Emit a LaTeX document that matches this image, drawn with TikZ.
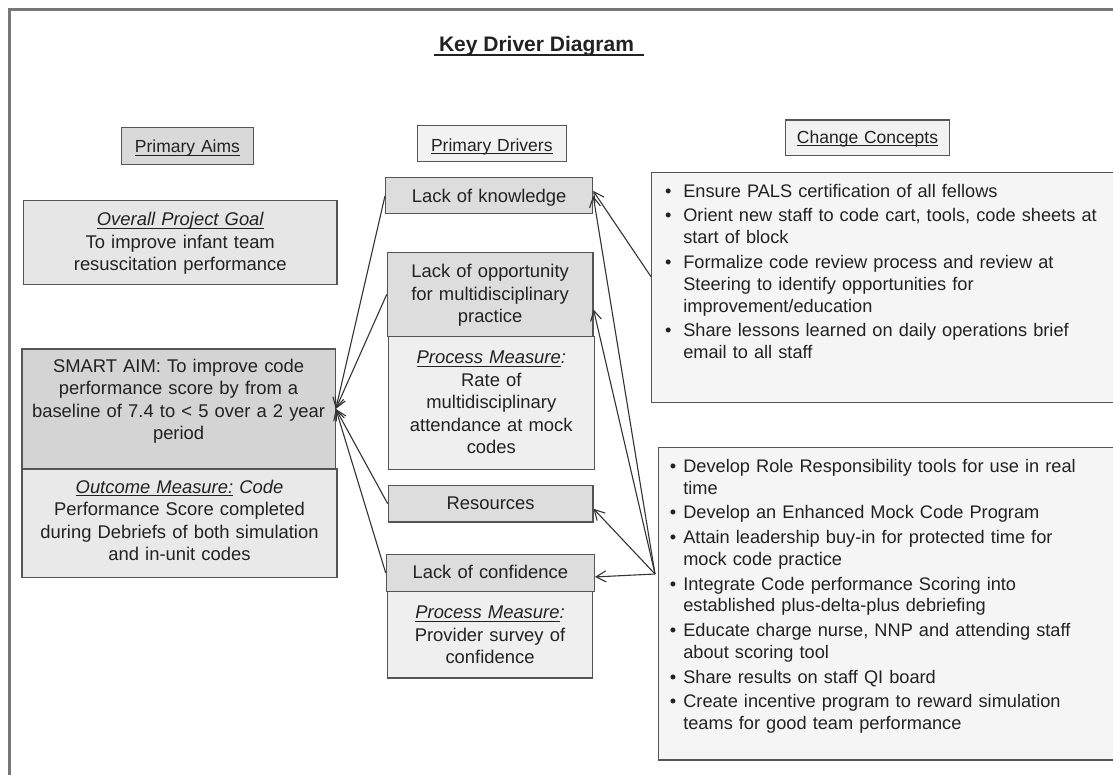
\documentclass[tikz,border=0pt]{standalone}
\usepackage{fontspec}
\setmainfont{Liberation Sans}
\usetikzlibrary{arrows.meta,calc}

\definecolor{framegray}{HTML}{777777}
\definecolor{boxgray}{HTML}{555555}
\definecolor{inkgray}{HTML}{222222}
\definecolor{arrowgray}{HTML}{333333}
\definecolor{aimfill}{HTML}{D9D9D9}
\definecolor{headfill}{HTML}{F2F2F2}
\definecolor{goalfill}{HTML}{E6E6E6}
\definecolor{smartfill}{HTML}{D4D4D4}
\definecolor{outfill}{HTML}{E9E9E9}
\definecolor{drvfill}{HTML}{DDDDDD}
\definecolor{pmfill}{HTML}{EFEFEF}
\definecolor{chgfill}{HTML}{F5F5F5}

% underline sitting just under the baseline
\newcommand{\kul}[2][1.1pt]{\setbox0=\hbox{#2}\rlap{\rule[\dimexpr-2pt-#1\relax]{\wd0}{#1}}\box0\relax}
% bullet item with hanging indent
\newlength\kbul
\newlength\ktxt
\newcommand{\kitem}[1]{\hangindent=\ktxt\hangafter=1\noindent\hspace*{\kbul}\makebox[\dimexpr\ktxt-\kbul\relax][l]{\textbullet}#1\par}

\begin{document}
\begin{tikzpicture}[x=1pt,y=-1pt,
  kbox/.style={draw=boxgray,line width=1.2pt,inner sep=0pt,anchor=north west,align=center,text=inkgray,font=\fontsize{18.4}{22.5}\selectfont},
  khead/.style={kbox,font=\fontsize{17.5}{21}\selectfont},
  klist/.style={kbox,align=left,font=\fontsize{18.2}{21.9}\selectfont},
  karrow/.style={draw=arrowgray,line width=1.1pt,-{Straight Barb[length=10pt,width=11pt]}}]
\useasboundingbox (0,0) rectangle (1113,775);
\clip (0,0) rectangle (1113,775);

% outer frame
\draw[framegray,line width=3pt] (9,9.3) rectangle (1130,790);

% title
\node[font=\fontsize{21}{25}\bfseries\selectfont,text=inkgray,anchor=base,inner sep=0pt] (title) at (539,51.7) {\kul[2pt]{\hspace{5pt}Key Driver Diagram\hspace{10pt}}};

% column heads
\node[khead,fill=aimfill,text width=132.2pt,text height=25pt,text depth=11.7pt] (aims) at (120.7,127) {\kul{Primary Aims}};
\node[khead,fill=headfill,text width=149pt,text height=25.5pt,text depth=10.5pt] (drv) at (416.7,125) {\kul{Primary Drivers}};
\node[khead,fill=headfill,text width=164.2pt,text height=23pt,text depth=12.5pt] (cc) at (784.8,119.5) {\kul{Change Concepts}};

% aims
\node[kbox,fill=goalfill,text width=313.5pt,text height=25.3pt,text depth=59.3pt] (goal) at (22.9,199.7)
  {\kul{\itshape Overall Project Goal}\\To improve infant team\\resuscitation performance};
\node[kbox,fill=smartfill,text width=313.2pt,text height=23.2pt,text depth=96.8pt] (smart) at (21.4,348.3)
  {SMART AIM: To improve code\\performance score by from a\\baseline of 7.4 to < 5 over a 2 year\\period};
\node[kbox,fill=outfill,text width=315pt,text height=24.2pt,text depth=84.2pt] (outcome) at (21.4,468.3)
  {\kul{\itshape Outcome Measure:} \textit{Code}\\Performance Score completed\\during Debriefs of both simulation\\and in-unit codes};

% primary drivers
\node[kbox,fill=drvfill,text width=207pt,text height=24.2pt,text depth=11.8pt] (know) at (385,177.3) {Lack of knowledge};
\node[kbox,fill=drvfill,text width=205.6pt,text height=25.2pt,text depth=58.5pt] (opp) at (386.7,252)
  {Lack of opportunity\\for multidisciplinary\\practice};
\node[kbox,fill=pmfill,text width=206pt,text height=27.5pt,text depth=105.8pt] (pm1) at (387.7,335.7)
  {\kul{\itshape Process Measure}\textit{:}\\Rate of\\multidisciplinary\\attendance at mock\\codes};
\node[kbox,fill=drvfill,text width=204.6pt,text height=24.2pt,text depth=12.1pt] (res) at (387.7,485) {Resources};
\node[kbox,fill=drvfill,text width=208pt,text height=24.2pt,text depth=12.5pt] (conf) at (385.7,554) {Lack of confidence};
\node[kbox,fill=pmfill,text width=205.2pt,text height=27.5pt,text depth=59.1pt] (pm2) at (386.8,590.7)
  {\kul{\itshape Process Measure}\textit{:}\\Provider survey of\\confidence};

% change concepts
\node[klist,fill=chgfill,text width=480pt,text height=24.8pt,text depth=205.2pt] (chg1) at (651,171.7)
  {\setlength\parskip{2.8pt}\setlength\kbul{13.6pt}\setlength\ktxt{31.7pt}%
   \kitem{Ensure PALS certification of all fellows}
   \kitem{Orient new staff to code cart, tools, code sheets at\newline start of block}
   \kitem{Formalize code review process and review at\newline Steering to identify opportunities for\newline improvement/education}
   \kitem{Share lessons learned on daily operations brief\newline email to all staff}};
\node[klist,fill=chgfill,text width=475pt,text height=24.8pt,text depth=287.8pt] (chg2) at (657.6,446.7)
  {\setlength\parskip{2.8pt}\setlength\kbul{11.7pt}\setlength\ktxt{25.1pt}%
   \kitem{Develop Role Responsibility tools for use in real\newline time}
   \kitem{Develop an Enhanced Mock Code Program}
   \kitem{Attain leadership buy-in for protected time for\newline mock code practice}
   \kitem{Integrate Code performance Scoring into\newline established plus-delta-plus debriefing}
   \kitem{Educate charge nurse, NNP and attending staff\newline about scoring tool}
   \kitem{Share results on staff QI board}
   \kitem{Create incentive program to reward simulation\newline teams for good team performance}};

% arrow sources on the change boxes
\coordinate (c1src) at (651,276.7);
\coordinate (c2src) at (655,574);

% drivers to aim
\draw[karrow] (know.west) -- (smart.east);
\draw[karrow] (opp.west) -- (smart.east);
\draw[karrow] (res.west) -- (smart.east);
\draw[karrow] (conf.west) -- (smart.east);

% change concepts to drivers
\draw[karrow] (c1src) -- ($(know.east)+(0,-5)$);
\draw[karrow] (c2src) -- (know.east);
\draw[karrow] (c2src) -- ($(opp.east)+(0,15)$);
\draw[karrow] (c2src) -- ($(res.east)+(0,5)$);
\draw[karrow] (c2src) -- ($(conf.east)+(0,4)$);
\end{tikzpicture}
\end{document}
